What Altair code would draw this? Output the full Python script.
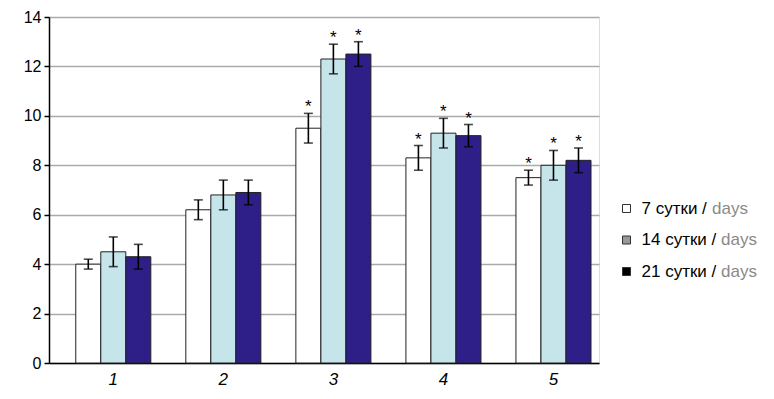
import altair as alt
import pandas as pd

groups = ["1", "2", "3", "4", "5"]
series = ["7 сутки / days", "14 сутки / days", "21 сутки / days"]
legend_main = ["7 сутки / ", "14 сутки / ", "21 сутки / "]
legend_en = "days"

means_7 = [4.0, 6.2, 9.5, 8.3, 7.5]
means_14 = [4.5, 6.8, 12.3, 9.3, 8.0]
means_21 = [4.3, 6.9, 12.5, 9.2, 8.2]
err_7 = [0.2, 0.4, 0.6, 0.5, 0.3]
err_14 = [0.6, 0.6, 0.6, 0.6, 0.6]
err_21 = [0.5, 0.5, 0.5, 0.45, 0.5]
sig_7 = [False, False, True, True, True]
sig_14 = [False, False, True, True, True]
sig_21 = [False, False, True, True, True]

bar_colors = ["#ffffff", "#c5e5ea", "#2e1f88"]
legend_colors = ["#ffffff", "#999999", "#000000"]

rows = []
for s, m, e, g in zip(series, [means_7, means_14, means_21],
                      [err_7, err_14, err_21], [sig_7, sig_14, sig_21]):
    for grp, mv, ev, sv in zip(groups, m, e, g):
        rows.append({"group": grp, "series": s, "mean": mv,
                     "lo": mv - ev, "hi": mv + ev, "star": "*" if sv else ""})
df = pd.DataFrame(rows)

FONT = "Liberation Sans"

x_enc = alt.X("group:N", sort=groups,
              scale=alt.Scale(paddingInner=0.318, paddingOuter=0.158, align=0.77),
              axis=alt.Axis(title=None, labelAngle=0, ticks=False, labelPadding=8,
                            labelFontStyle="italic", labelFontSize=17, labelFont=FONT,
                            labelColor="#000", domainColor="#000", domainWidth=1.5,
                            grid=False))
xo_enc = alt.XOffset("series:N", sort=series,
                     scale=alt.Scale(domain=series, paddingInner=0, paddingOuter=0))
y_scale = alt.Scale(domain=[0, 14], nice=False)

base = alt.Chart(df)

bars = base.mark_bar(stroke="#222", strokeWidth=1).encode(
    x=x_enc, xOffset=xo_enc,
    y=alt.Y("mean:Q", scale=y_scale,
            axis=alt.Axis(title=None, values=[0, 2, 4, 6, 8, 10, 12, 14],
                          tickSize=5, tickColor="#000", tickWidth=1.5,
                          labelFontSize=16, labelFont=FONT, labelColor="#000",
                          labelPadding=3, domainColor="#000", domainWidth=1.5,
                          gridColor="#aaaaaa", gridWidth=1.5)),
    fill=alt.Fill("series:N", sort=series,
                  scale=alt.Scale(domain=series, range=bar_colors), legend=None),
)

err = base.mark_rule(color="#000", strokeWidth=1.6).encode(
    x=x_enc, xOffset=xo_enc, y="lo:Q", y2="hi:Q")
cap_lo = base.mark_tick(color="#000", thickness=1.6, size=9).encode(
    x=x_enc, xOffset=xo_enc, y="lo:Q")
cap_hi = base.mark_tick(color="#000", thickness=1.6, size=9).encode(
    x=x_enc, xOffset=xo_enc, y="hi:Q")
stars = base.mark_text(font=FONT, fontSize=17, dy=-6, color="#000").encode(
    x=x_enc, xOffset=xo_enc, y="hi:Q", text="star:N")

layers = [bars, err, cap_lo, cap_hi, stars]

legend_df = pd.DataFrame({"k": [0]})
for i, s in enumerate(series):
    yy = 191.5 + 31.5 * i
    sq = alt.Chart(legend_df).mark_square(size=64, fill=legend_colors[i], opacity=1,
                                          stroke="#333", strokeWidth=1).encode(
        x=alt.value(577.5), y=alt.value(yy))
    t1 = alt.Chart(legend_df).mark_text(font=FONT, fontSize=17, align="left",
                                        baseline="middle", color="#000").encode(
        x=alt.value(592.5), y=alt.value(yy), text=alt.value(legend_main[i]))
    t2 = alt.Chart(legend_df).mark_text(font=FONT, fontSize=17, align="left",
                                        baseline="middle", color="#8a8a8a").encode(
        x=alt.value(663 if i == 0 else 672), y=alt.value(yy), text=alt.value(legend_en))
    layers += [sq, t1, t2]

chart = alt.layer(*layers).properties(
    width=550, height=346,
    autosize=alt.AutoSizeParams(type="none"),
    padding={"left": 41, "top": 9, "right": 160, "bottom": 25},
).configure_view(stroke=None).configure(background="white")

chart.save("out.html", embed_options={"renderer": "svg", "actions": False})
